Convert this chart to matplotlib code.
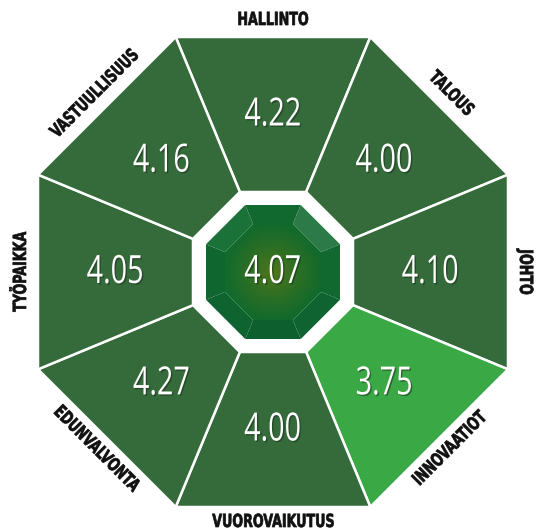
import numpy as np
import matplotlib
matplotlib.use("Agg")
import matplotlib.pyplot as plt
from matplotlib.patches import Polygon
from matplotlib import font_manager as fm
from matplotlib.transforms import Affine2D
from matplotlib.colors import to_rgba
import matplotlib.patheffects as pe

# ---- data ----
categories = ["HALLINTO", "TALOUS", "JOHTO", "INNOVAATIOT",
              "VUOROVAIKUTUS", "EDUNVALVONTA", "TYÖPAIKKA", "VASTUULLISUUS"]
values = [4.22, 4.00, 4.10, 3.75, 4.00, 4.27, 4.05, 4.16]
overall = 4.07

DARK = "#356b3a"
LIGHT = "#3aa845"


def find_font(prefs, bold):
    for name, stretch in prefs:
        for f in fm.fontManager.ttflist:
            w = f.weight
            try:
                w = int(w)
            except (TypeError, ValueError):
                w = 700 if str(w).lower() == "bold" else 400
            ok_w = (w >= 600) if bold else (300 <= w <= 500)
            if f.name == name and ok_w and f.style == "normal" and \
                    (stretch is None or f.stretch == stretch):
                return f.fname
    return None


lab_prefs = [("Liberation Sans Narrow", None), ("DejaVu Sans Condensed", None),
             ("DejaVu Sans", "condensed"), ("Roboto", None)]
lab_file = find_font(lab_prefs, True)
lab_fp = fm.FontProperties(fname=lab_file) if lab_file else fm.FontProperties(family="DejaVu Sans", weight="bold")
num_fp = fm.FontProperties(family=["Open Sans", "DejaVu Sans"], weight="normal")


class Squeeze(pe.AbstractPathEffect):
    """Draw text narrower (horizontal squeeze about its centre), optional shadow / stroke."""

    def __init__(self, sx, shadow=None, shadow_offset=(1.0, -1.0), alpha=0.6, stroke=0.0):
        super().__init__(offset=(0, 0))
        self.sx = sx
        self.shadow = to_rgba(shadow) if shadow is not None else None
        self.shadow_offset = shadow_offset
        self.alpha = alpha
        self.stroke = stroke

    def draw_path(self, renderer, gc, tpath, affine, rgbFace=None):
        v = tpath.vertices
        xc = (v[:, 0].min() + v[:, 0].max()) / 2 if len(v) else 0.0
        sq = Affine2D().translate(-xc, 0).scale(self.sx, 1).translate(xc, 0)
        aff = sq + affine
        if self.shadow is not None:
            gc0 = renderer.new_gc()
            gc0.copy_properties(gc)
            gc0.set_foreground(self.shadow)
            gc0.set_alpha(self.alpha)
            ox = renderer.points_to_pixels(self.shadow_offset[0])
            oy = renderer.points_to_pixels(self.shadow_offset[1])
            renderer.draw_path(gc0, tpath, aff + Affine2D().translate(ox, oy), self.shadow)
            gc0.restore()
        if self.stroke > 0 and rgbFace is not None:
            gc1 = renderer.new_gc()
            gc1.copy_properties(gc)
            gc1.set_foreground(rgbFace)
            gc1.set_linewidth(self.stroke)
            gc1.set_joinstyle("round")
            renderer.draw_path(gc1, tpath, aff, rgbFace)
            gc1.restore()
        else:
            renderer.draw_path(gc, tpath, aff, rgbFace)


W, H = 542, 531
fig = plt.figure(figsize=(W / 100, H / 100), dpi=100)
ax = fig.add_axes([0, 0, 1, 1])
ax.set_xlim(0, W)
ax.set_ylim(H, 0)
ax.set_aspect("equal")
ax.axis("off")

cx, cy = 273, 272
A_OUT, A_IN = 235, 80          # apothems of segment ring
A_C, A_B = 67, 48              # centre octagon and its inner bevel
c = np.cos(np.radians(22.5))


def pt(r, deg):
    a = np.radians(deg)
    return (cx + r * np.cos(a), cy - r * np.sin(a))


NUM_SIZE = 28
NUM_SQ = 0.74
LAB_SIZE = 13
LAB_SQ = 0.78

vmin = min(values)
for k, (cat, v) in enumerate(zip(categories, values)):
    th = ((90 - 45 * k + 180) % 360) - 180
    poly = [pt(A_OUT / c, th + 22.5), pt(A_OUT / c, th - 22.5),
            pt(A_IN / c, th - 22.5), pt(A_IN / c, th + 22.5)]
    col = LIGHT if v == vmin else DARK
    ax.add_patch(Polygon(poly, closed=True, facecolor=col, edgecolor="white",
                         linewidth=1.8, joinstyle="miter", zorder=2))
    tx, ty = pt((A_OUT + A_IN) / 2, th)
    ax.text(tx, ty + 1, f"{v:.2f}", color="white", fontproperties=num_fp, fontsize=NUM_SIZE,
            ha="center", va="center", zorder=5,
            path_effects=[Squeeze(NUM_SQ, shadow="#1a301c", alpha=0.55)])
    # label, tangential, reading left-to-right
    if th >= 0:
        rot = th - 90
    else:
        rot = th + 90
    if th <= -179:
        rot = 90
    gap = 17 if th >= 0 or th <= -179 else 15
    lx, ly = pt(A_OUT + gap, th)
    ax.text(lx, ly, cat, fontproperties=lab_fp, fontsize=LAB_SIZE, color="#111111",
            rotation=rot, rotation_mode="anchor", ha="center", va="center", zorder=5,
            path_effects=[Squeeze(LAB_SQ, stroke=0.5)])

# centre octagon: bevel facets
facet_cols = ["#12692f", "#2b7a48", "#12692f", "#0e6330",
              "#0d602d", "#0e632f", "#10662f", "#1a7238"]
for k in range(8):
    th = 90 - 45 * k
    poly = [pt(A_C / c, th + 22.5), pt(A_C / c, th - 22.5),
            pt(A_B / c, th - 22.5), pt(A_B / c, th + 22.5)]
    ax.add_patch(Polygon(poly, closed=True, facecolor=facet_cols[k], edgecolor="none", zorder=3))

# inner octagon with radial gradient
inner = Polygon([pt(A_B / c, 90 - 45 * k + 22.5) for k in range(8)], closed=True,
                facecolor="none", edgecolor="none", zorder=3)
ax.add_patch(inner)
R = A_B / c
gx, gy = np.meshgrid(np.linspace(-R, R, 200), np.linspace(-R, R, 200))
d = np.clip(np.hypot(gx, gy) / A_B, 0, 1)
c0 = np.array([84, 118, 26]) / 255
c1 = np.array([18, 106, 44]) / 255
t = d[..., None] ** 0.8
img = c0[None, None, :] * (1 - t) + c1[None, None, :] * t
im = ax.imshow(img, extent=(cx - R, cx + R, cy + R, cy - R), zorder=3, interpolation="bilinear")
im.set_clip_path(inner)
ax.set_xlim(0, W)
ax.set_ylim(H, 0)

ax.text(cx, cy + 1, f"{overall:.2f}", color="white", fontproperties=num_fp, fontsize=NUM_SIZE,
        ha="center", va="center", zorder=6,
        path_effects=[Squeeze(NUM_SQ, shadow="#10301a", alpha=0.55)])

fig.savefig("out.png", dpi=100, facecolor="white")
